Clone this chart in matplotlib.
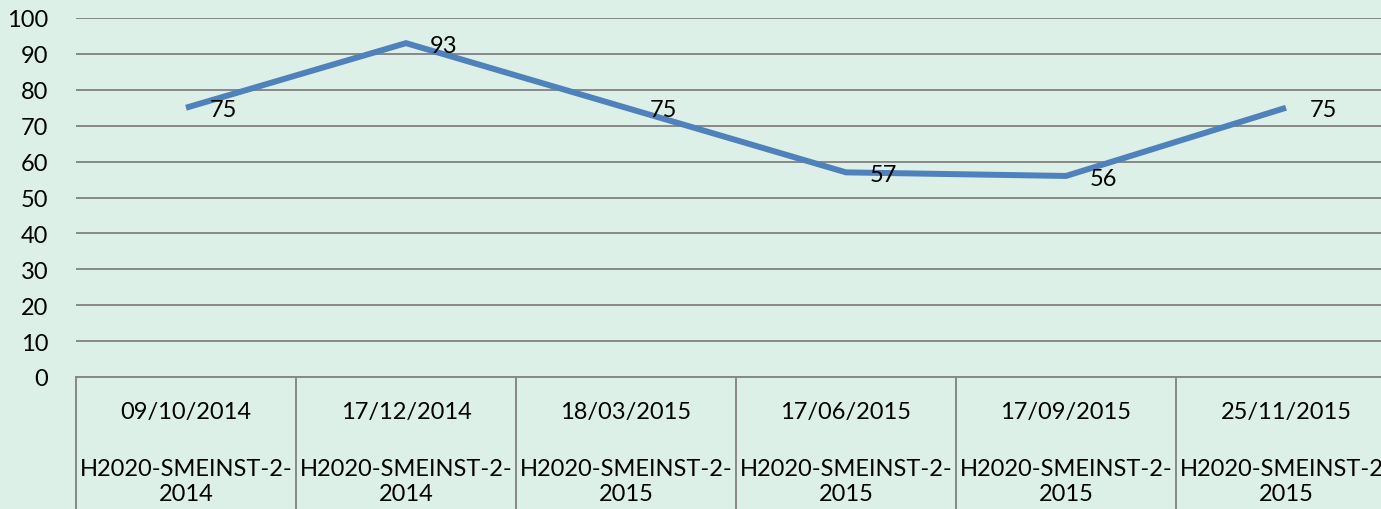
import matplotlib
matplotlib.use("Agg")
import matplotlib.pyplot as plt
import matplotlib.transforms as mtransforms

dates = ["09/10/2014", "17/12/2014", "18/03/2015", "17/06/2015", "17/09/2015", "25/11/2015"]
calls = ["H2020-SMEINST-2-\n2014", "H2020-SMEINST-2-\n2014", "H2020-SMEINST-2-\n2015",
         "H2020-SMEINST-2-\n2015", "H2020-SMEINST-2-\n2015", "H2020-SMEINST-2-\n2015"]
values = [75, 93, 75, 57, 56, 75]
yticks = list(range(0, 101, 10))

BG = "#DDF0E7"
GRID = "#888888"
LINE = "#4F81BD"
FONT = "Lato"
FS = 17

plt.rcParams['font.family'] = [FONT, 'DejaVu Sans']

W, H = 1381, 510
fig = plt.figure(figsize=(W / 100, H / 100), dpi=100, facecolor=BG)
left, right, top, bottom = 76, 1396, 19, 378
ax = fig.add_axes([left / W, 1 - bottom / H, (right - left) / W, (bottom - top) / H])
ax.set_facecolor(BG)

x = list(range(len(values)))
ax.plot(x, values, color=LINE, linewidth=4.3, solid_joinstyle='miter', solid_capstyle='butt', zorder=3)
for xi, v in zip(x, values):
    ax.annotate(str(v), (xi, v), xytext=(17, -1.5), textcoords='offset points',
                ha='left', va='center', fontsize=FS, color='black', zorder=4)

ax.set_xlim(-0.5, len(values) - 0.5)
ax.set_ylim(0, 100)
ax.set_yticks(yticks)
ax.set_yticklabels([str(t) for t in yticks], fontsize=FS)
ax.tick_params(axis='y', length=0, pad=20)
ax.set_xticks([])
ax.yaxis.grid(True, color=GRID, linewidth=1.4)
ax.set_axisbelow(True)
for s in ['top', 'right', 'left']:
    ax.spines[s].set_visible(False)
ax.spines['bottom'].set_color(GRID)
ax.spines['bottom'].set_linewidth(1.4)

trans = mtransforms.blended_transform_factory(ax.transData, ax.transAxes)
ybot = -(H - bottom) / (bottom - top) - 0.05
for b in [i - 0.5 for i in range(len(values) + 1)]:
    ax.plot([b, b], [0, ybot], transform=trans, color=GRID, linewidth=1.4, clip_on=False)

h = bottom - top
for xi, d, c in zip(x, dates, calls):
    ax.text(xi, -(412 - bottom) / h, d, transform=trans, ha='center', va='center', fontsize=FS)
    ax.text(xi, -(482 - bottom) / h, c, transform=trans, ha='center', va='center',
            fontsize=FS, linespacing=1.25)

fig.savefig("out.png", dpi=100, facecolor=BG)
